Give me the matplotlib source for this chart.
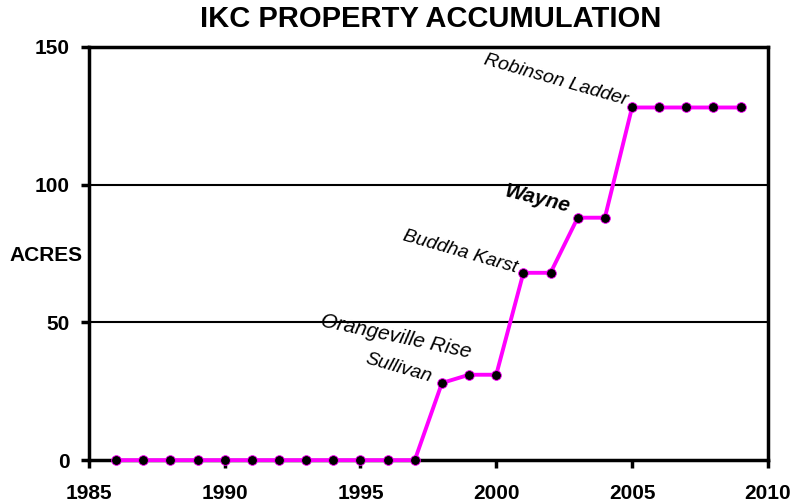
import matplotlib
import matplotlib.pyplot as plt

matplotlib.use("Agg")

years = list(range(1986, 2010))
acres = [0, 0, 0, 0, 0, 0, 0, 0, 0, 0, 0, 0,
         28, 31, 31, 68, 68, 88, 88, 128, 128, 128, 128, 128]

labels = ["Robinson Ladder", "Wayne", "Buddha Karst", "Orangeville Rise", "Sullivan"]
label_x = [2002.2, 2001.5, 1998.65, 1996.3, 1996.4]
label_y = [138, 94.8, 75.5, 44.7, 33.4]
label_rot = [-16, -14, -16, -12, -16]

font = ["Liberation Sans", "DejaVu Sans"]

fig = plt.figure(figsize=(7.94, 5.04), dpi=100)
ax = fig.add_axes([0.112, 0.087, 0.855, 0.82])

for v in [50, 100, 150]:
    ax.axhline(v, color="black", lw=1.5, zorder=1)

ax.plot(years, acres, color="#FF00FF", lw=2.8, marker="o", markersize=7,
        markerfacecolor="black", markeredgecolor="#FF00FF", markeredgewidth=0.6,
        zorder=3, clip_on=False)

for txt, x, y, r in zip(labels, label_x, label_y, label_rot):
    if txt == "Wayne":
        ax.text(x, y, txt, rotation=r, ha="center", va="center", fontsize=15,
                fontstyle="italic", fontweight="bold", family=font)
    else:
        size = 15 if txt == "Orangeville Rise" else 14
        ax.text(x, y, txt, rotation=r, ha="center", va="center", fontsize=size,
                fontstyle="italic", family=font)

ax.set_xlim(1985, 2010)
ax.set_ylim(0, 150)
ax.set_xticks(range(1985, 2011, 5))
ax.set_yticks([0, 50, 100, 150])

for s in ax.spines.values():
    s.set_linewidth(2.5)
    s.set_color("black")

ax.tick_params(direction="out", length=6, width=2.5, labelsize=15)
ax.tick_params(axis="x", pad=11)
ax.tick_params(axis="y", pad=8)
for lab in ax.get_xticklabels() + ax.get_yticklabels():
    lab.set_fontweight("bold")
    lab.set_family(font)

ax.set_ylabel("ACRES", rotation=0, fontsize=15, fontweight="bold",
              family=font, ha="center", va="center")
ax.yaxis.set_label_coords(-0.063, 0.496)

fig.suptitle("IKC PROPERTY ACCUMULATION", x=0.543, y=0.99, fontsize=21,
             fontweight="bold", family=font)

fig.savefig("out.png", dpi=100)
